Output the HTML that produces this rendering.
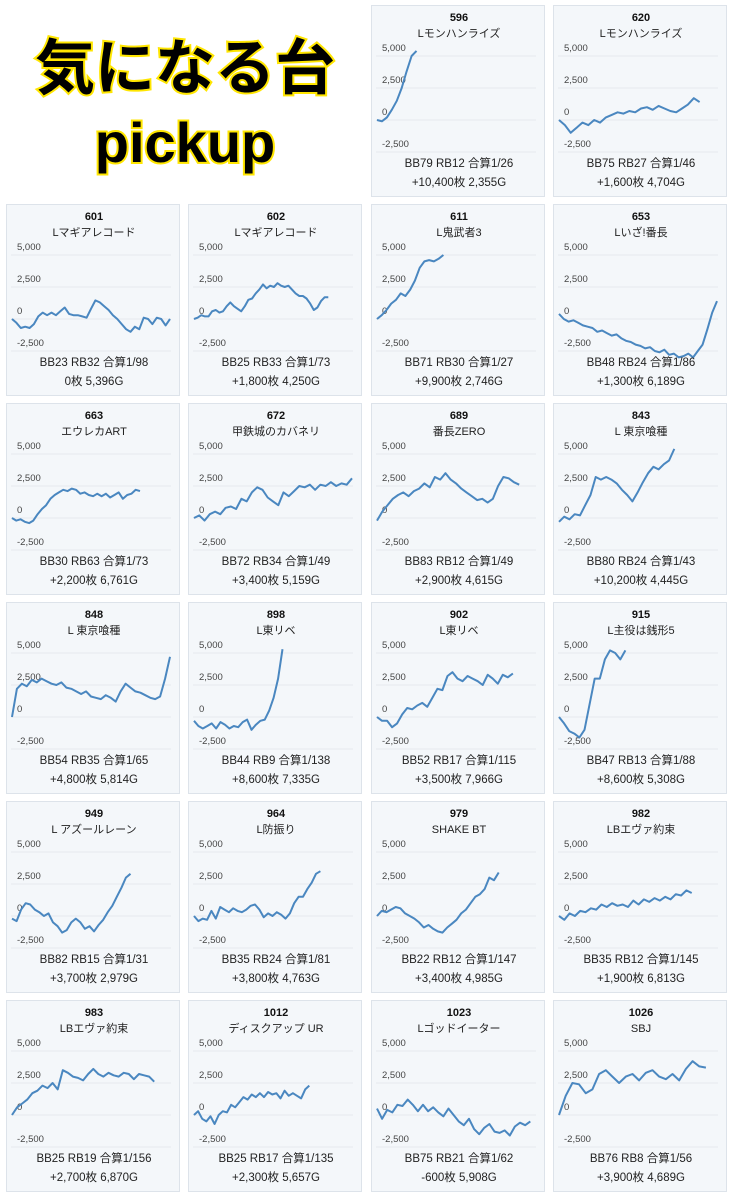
<!DOCTYPE html>
<html><head><meta charset="utf-8">
<style>
body{margin:0;width:735px;height:1200px;background:#fff;position:relative;overflow:hidden;font-family:"Liberation Sans","Noto Sans CJK JP",sans-serif;}
.title{position:absolute;left:0;width:370px;text-align:center;font-weight:bold;color:#000;-webkit-text-stroke:4px #ffe600;paint-order:stroke fill;}
.card{position:absolute;width:174px;height:192px;background:#f4f7fa;border:1px solid #dde3ea;box-sizing:border-box;}
.card svg{position:absolute;left:0;top:0;}
</style></head><body>
<div class="title" style="top:28px;font-size:60px;line-height:72px;font-family:'Noto Sans CJK JP',sans-serif;">気になる台</div>
<div class="title" style="top:110px;font-size:56px;line-height:66px;">pickup</div>
<div id="grid"></div>
<script>
const machineIds=["596","620","601","602","611","653","663","672","689","843","848","898","902","915","949","964","979","982","983","1012","1023","1026"];
const machineNames=["Lモンハンライズ","Lモンハンライズ","Lマギアレコード","Lマギアレコード","L鬼武者3","Lいざ!番長","エウレカART","甲鉄城のカバネリ","番長ZERO","L 東京喰種","L 東京喰種","L東リベ","L東リベ","L主役は銭形5","L アズールレーン","L防振り","SHAKE BT","LBエヴァ約束","LBエヴァ約束","ディスクアップ UR","Lゴッドイーター","SBJ"];
const bonusLines=["BB79 RB12 合算1/26","BB75 RB27 合算1/46","BB23 RB32 合算1/98","BB25 RB33 合算1/73","BB71 RB30 合算1/27","BB48 RB24 合算1/86","BB30 RB63 合算1/73","BB72 RB34 合算1/49","BB83 RB12 合算1/49","BB80 RB24 合算1/43","BB54 RB35 合算1/65","BB44 RB9 合算1/138","BB52 RB17 合算1/115","BB47 RB13 合算1/88","BB82 RB15 合算1/31","BB35 RB24 合算1/81","BB22 RB12 合算1/147","BB35 RB12 合算1/145","BB25 RB19 合算1/156","BB25 RB17 合算1/135","BB75 RB21 合算1/62","BB76 RB8 合算1/56"];
const resultLines=["+10,400枚 2,355G","+1,600枚 4,704G","0枚 5,396G","+1,800枚 4,250G","+9,900枚 2,746G","+1,300枚 6,189G","+2,200枚 6,761G","+3,400枚 5,159G","+2,900枚 4,615G","+10,200枚 4,445G","+4,800枚 5,814G","+8,600枚 7,335G","+3,500枚 7,966G","+8,600枚 5,308G","+3,700枚 2,979G","+3,800枚 4,763G","+3,400枚 4,985G","+1,900枚 6,813G","+2,700枚 6,870G","+2,300枚 5,657G","-600枚 5,908G","+3,900枚 4,689G"];
const progress=[0.25,0.89,1.0,0.85,0.42,1.0,0.81,1.0,0.9,0.73,1.0,0.56,0.86,0.42,0.75,0.8,0.77,0.84,0.9,0.73,0.97,0.93];
const yTicks=[5000,2500,0,-2500];
const tickLabels=["5,000","2,500","0","-2,500"];
const s596=[0,-100,200,800,1500,2500,3800,5000,5400];
const s620=[0,-400,-1000,-600,-200,-400,0,-200,200,400,600,500,700,600,900,1000,800,1100,900,700,600,900,1200,1700,1400];
const s601=[0,-300,-700,-600,-700,-400,200,500,300,500,300,600,900,400,300,300,200,100,800,1450,1300,1000,700,300,0,-400,-800,-1000,-600,-800,100,0,-400,100,0,-500,0];
const s602=[0,100,300,200,200,600,700,500,600,1000,1300,1000,800,600,1000,1500,1600,2000,2300,2700,2400,2600,2500,2800,2600,2500,2600,2300,2000,1800,1800,1600,1200,700,900,1400,1700,1700];
const s611=[0,300,700,1200,1500,2000,1800,2300,3000,4000,4500,4600,4500,4700,5000];
const s653=[400,0,-200,-100,-300,-500,-600,-700,-1000,-900,-1100,-1300,-1200,-1500,-1700,-1800,-2000,-2100,-2300,-2200,-2500,-2600,-2400,-2800,-2700,-3000,-2900,-2700,-3000,-2500,-2000,-800,500,1400];
const s663=[0,-200,-100,-300,-400,-200,300,700,1000,1500,1800,2000,2200,2100,2300,2200,1900,2000,1800,1700,1900,1700,1900,1600,1800,2000,1500,1800,1900,2200,2100];
const s672=[0,200,-200,300,500,300,800,900,700,1500,1300,2000,2400,2200,1600,1300,1000,2000,1700,2100,2500,2400,2600,2200,2600,2500,2800,2500,2700,2600,3100];
const s689=[-200,500,1000,1500,1800,2000,1700,2100,2300,2700,2400,3200,3000,3500,3000,2700,2300,2000,1700,1400,1500,1200,1500,2500,3200,3100,2800,2600];
const s843=[-300,100,-100,300,200,1000,1800,3200,3000,3200,3000,2700,2200,1800,1300,2000,2800,3500,4000,3800,4200,4500,5400];
const s848=[0,2200,2600,2400,2900,2700,3000,2800,2600,2500,2700,2300,2200,2000,1800,2000,1600,1500,1400,1700,1500,1200,2000,2600,2300,2000,1900,1700,1500,1400,1600,3000,4700];
const s898=[-300,-700,-900,-700,-500,-900,-400,-600,-900,-700,-800,-400,-200,-1000,-600,-300,-200,500,1500,3000,5300];
const s902=[0,-300,-300,-800,-500,200,700,600,900,1100,800,1500,2200,2100,3200,3500,3000,2800,3200,3000,2800,2500,3300,3000,2600,3300,3100,3400];
const s915=[0,-500,-1100,-1300,-1600,-1000,1000,3000,3000,4500,5200,5000,4500,5200];
const s949=[-200,-400,500,1000,900,500,300,0,200,-500,-800,-1300,-1100,-500,-200,-500,-1000,-800,-1200,-700,-300,300,800,1500,2200,3000,3300];
const s964=[0,-400,-200,-300,400,-200,700,500,300,600,400,300,500,800,900,500,-100,200,0,300,100,-200,200,1000,1500,1500,2100,2600,3300,3500];
const s979=[0,400,300,500,700,600,200,0,-200,-500,-900,-700,-1000,-1200,-1300,-900,-600,-300,200,500,1000,1500,1700,2100,3000,2800,3400];
const s982=[0,-300,200,0,400,300,600,500,900,700,1000,800,900,700,1200,900,1300,1100,1400,1200,1500,1300,1700,1600,2000,1800];
const s983=[0,600,900,1200,1700,1900,2300,2100,2500,2000,3500,3300,3000,2900,2700,3200,3600,3200,3000,3300,3100,3000,3300,3200,2800,3200,3100,3000,2600];
const s1012=[0,300,-300,-500,-100,-700,0,300,200,800,600,1000,1400,1200,1600,1400,1700,1400,1800,1600,1700,1300,1900,1500,1700,1500,1300,2000,2300];
const s1023=[500,-300,400,200,800,700,1200,800,300,800,300,600,200,-100,500,0,-500,-800,-300,-1100,-1500,-1000,-700,-1300,-1400,-1200,-1600,-900,-600,-800,-500];
const s1026=[0,1500,2500,2400,1700,2000,3200,3500,3000,2500,3000,3200,2700,3300,3500,3000,2800,3200,2700,3600,4200,3800,3700];
const seriesList=[s596,s620,s601,s602,s611,s653,s663,s672,s689,s843,s848,s898,s902,s915,s949,s964,s979,s982,s983,s1012,s1023,s1026];

const NS="http://www.w3.org/2000/svg";
const grid=document.getElementById('grid');
const colX=[6,188,371,553], rowY=[5,204,403,602,801,1000];
function yScale(v){return 114-v/2500*32;}
function xScale(i,n,p){return 5+(n>1?i/(n-1):0)*p*158;}
machineIds.forEach((id,k)=>{
  const slot=k+2, col=slot%4, row=Math.floor(slot/4);
  const card=document.createElement('div');
  card.className='card';
  card.style.left=colX[col]+'px';card.style.top=rowY[row]+'px';
  
  
  const svg=document.createElementNS(NS,'svg');
  svg.setAttribute('width','174');svg.setAttribute('height','192');
  
  
  let h='';
  h+=`<text x="87" y="15" text-anchor="middle" font-size="11" font-weight="bold" fill="#111">${id}</text>`;
  h+=`<text x="87" y="31" text-anchor="middle" font-size="11" fill="#222" font-family="Liberation Sans, Noto Sans CJK JP, sans-serif">${machineNames[k]}</text>`;
  yTicks.forEach((t,j)=>{
    const y=yScale(t);
    h+=`<line x1="4" x2="164" y1="${y}" y2="${y}" stroke="#e6e9ee" stroke-width="1"/>`;
    h+=`<text x="10" y="${y-5}" font-size="9.5" fill="#444">${tickLabels[j]}</text>`;
  });
  const s=seriesList[k];
  const pts=s.map((v,i)=>xScale(i,s.length,progress[k]).toFixed(1)+','+yScale(v).toFixed(1)).join(' ');
  h+=`<polyline points="${pts}" fill="none" stroke="#4a87c0" stroke-width="2" stroke-linejoin="round"/>`;
  h+=`<text x="87" y="161" text-anchor="middle" font-size="11.5" fill="#222" font-family="Liberation Sans, Noto Sans CJK JP, sans-serif">${bonusLines[k]}</text>`;
  h+=`<text x="87" y="180" text-anchor="middle" font-size="11.5" fill="#222" font-family="Liberation Sans, Noto Sans CJK JP, sans-serif">${resultLines[k]}</text>`;
  svg.innerHTML=h;
  card.appendChild(svg);
  grid.appendChild(card);
});
</script>
</body></html>
